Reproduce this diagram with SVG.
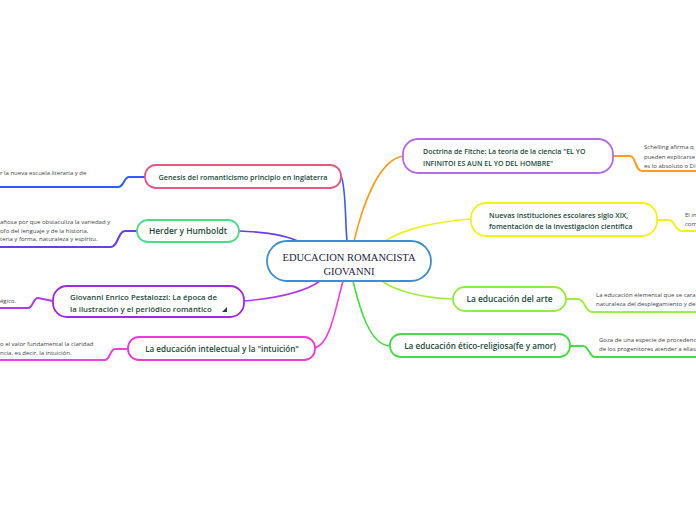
<svg xmlns="http://www.w3.org/2000/svg" width="696" height="520" viewBox="0 0 696 520">
<style>
.bg{fill:#ffffff}
.node{fill:#ffffff;stroke-width:1.8}
.nt{font-family:"Open Sans","Noto Sans",sans-serif;font-weight:600;fill:#1b4a3a}
.leaf{font-family:"Open Sans","Noto Sans",sans-serif;font-size:6px;fill:#444444}
.c{fill:none;stroke-width:1.6}
.u{fill:none;stroke-width:2}
.central{font-family:"Liberation Serif",serif;font-size:10.5px;fill:#1a2442}
</style>
<rect class="bg" width="696" height="520"/>
<g id="connectors">
  <path class="c" stroke="#3a5cf0" d="M341,176 C346,186 345,220 347,241"/>
  <path class="c" stroke="#6a3cf2" d="M239,231 C268,232 288,236 300,242"/>
  <path class="c" stroke="#b03cf0" d="M244,301 C278,298 305,292 320,281"/>
  <path class="c" stroke="#f040e0" d="M315,348 C330,344 335,310 343,281"/>
  <path class="c" stroke="#ff9d1e" d="M403,156 C380,160 364,200 354,241"/>
  <path class="c" stroke="#f0f020" d="M471,219 C430,222 400,231 385,241"/>
  <path class="c" stroke="#a2ee40" d="M453,299 C420,298 394,290 382,281"/>
  <path class="c" stroke="#40e040" d="M390,346 C370,345 360,310 353,281"/>
  <path class="u" stroke="#2e5cff" d="M145,177 L129,177 C124,177 124,187 118,187 L0,187"/>
  <path class="u" stroke="#6a3cf2" d="M137,231 L125,231 C118,231 118,247 111,247 L0,247"/>
  <path class="u" stroke="#b03cf0" d="M53,301 L38,298 C33,298 33,308 28,308 L0,308"/>
  <path class="u" stroke="#f040e0" d="M128,349 L115,349 C110,349 110,360 105,360 L0,360"/>
  <path class="u" stroke="#ff9d1e" d="M613,156 L630,156 C636,156 635,171 642,171 L696,171"/>
  <path class="u" stroke="#f0f020" d="M657,220 L669,220 C675,220 675,231 682,231 L696,231"/>
  <path class="u" stroke="#a2ee40" d="M566,299 L578,299 C585,299 585,312 592,312 L696,312"/>
  <path class="u" stroke="#40e040" d="M570,346 L583,346 C589,346 589,357 595,357 L696,357"/>
</g>
<g id="central">
  <rect class="node" stroke="#3c8fd6" x="267" y="241" width="164" height="40" rx="20"/>
  <text class="central" x="349" y="261" text-anchor="middle">EDUCACION ROMANCISTA</text>
  <text class="central" x="349" y="275" text-anchor="middle">GIOVANNI</text>
</g>
<g id="genesis">
  <rect class="node" stroke="#e8577f" x="145" y="165" width="196" height="23" rx="11"/>
  <text class="nt" font-size="7.2" x="243" y="180" text-anchor="middle">Genesis del romanticismo principio en Inglaterra</text>
  <text class="leaf" x="0" y="175">r la nueva escuela literaria y de</text>
</g>
<g id="herder">
  <rect class="node" stroke="#4ddb8a" x="137" y="220" width="102" height="22" rx="11"/>
  <text class="nt" font-size="8.4" x="188" y="234" text-anchor="middle">Herder y Humboldt</text>
  <text class="leaf" x="0" y="224">añosa por que obstaculiza la variedad y</text>
  <text class="leaf" x="0" y="233">ofo del lenguaje y de la historia,</text>
  <text class="leaf" x="0" y="241">teria y forma, naturaleza y espíritu.</text>
</g>
<g id="pestalozzi">
  <rect class="node" stroke="#a426e8" x="53" y="286" width="191" height="31" rx="14"/>
  <text class="nt" font-size="7.8" x="70" y="300">Giovanni Enrico Pestalozzi: La época de</text>
  <text class="nt" font-size="7.8" x="70" y="312">la ilustración y el periódico romántico</text>
  <polygon points="227,307 227,312 222,312" fill="#1b4a3a"/>
  <text class="leaf" x="0" y="303">égico.</text>
</g>
<g id="intelectual">
  <rect class="node" stroke="#f037d8" x="128" y="337" width="187" height="23" rx="11"/>
  <text class="nt" font-size="8.1" x="222" y="352" text-anchor="middle">La  educación intelectual y la "intuición"</text>
  <text class="leaf" x="0" y="346">o el valor fundamental la claridad</text>
  <text class="leaf" x="0" y="355">ncia, es decir, la intuición.</text>
</g>
<g id="fitche">
  <rect class="node" stroke="#b469f0" x="403" y="139" width="210" height="34" rx="15"/>
  <text class="nt" font-size="7" x="423" y="154">Doctrina de Fitche: La teoría de la ciencia "EL YO</text>
  <text class="nt" font-size="7" x="423" y="166">INFINITOI ES AUN EL YO DEL HOMBRE"</text>
  <text class="leaf" x="644" y="149">Schelling afirma q</text>
  <text class="leaf" x="644" y="159">pueden explicarse</text>
  <text class="leaf" x="644" y="168">es lo absoluto o Di</text>
</g>
<g id="nuevas">
  <rect class="node" stroke="#f2f21e" x="471" y="203" width="186" height="33" rx="15"/>
  <text class="nt" font-size="7.2" x="489" y="218">Nuevas instituciones escolares siglo XIX,</text>
  <text class="nt" font-size="7.2" x="489" y="229">fomentación de la investigación científica</text>
  <text class="leaf" x="685" y="217">El in</text>
  <text class="leaf" x="685" y="226">com</text>
</g>
<g id="arte">
  <rect class="node" stroke="#90ee3c" x="453" y="287" width="113" height="24" rx="12"/>
  <text class="nt" font-size="8.4" x="509.5" y="302" text-anchor="middle">La educación del arte</text>
  <text class="leaf" x="596" y="297">La educación elemental que se cara</text>
  <text class="leaf" x="596" y="306">naturaleza del desplegamiento y del</text>
</g>
<g id="etico">
  <rect class="node" stroke="#3fe03f" x="390" y="334" width="180" height="23" rx="11"/>
  <text class="nt" font-size="8.2" x="480" y="349" text-anchor="middle">La educación ético-religiosa(fe y amor)</text>
  <text class="leaf" x="599" y="342">Goza de una especie de procedenc</text>
  <text class="leaf" x="599" y="351">de los progenitores atender a ellas</text>
</g>
</svg>
